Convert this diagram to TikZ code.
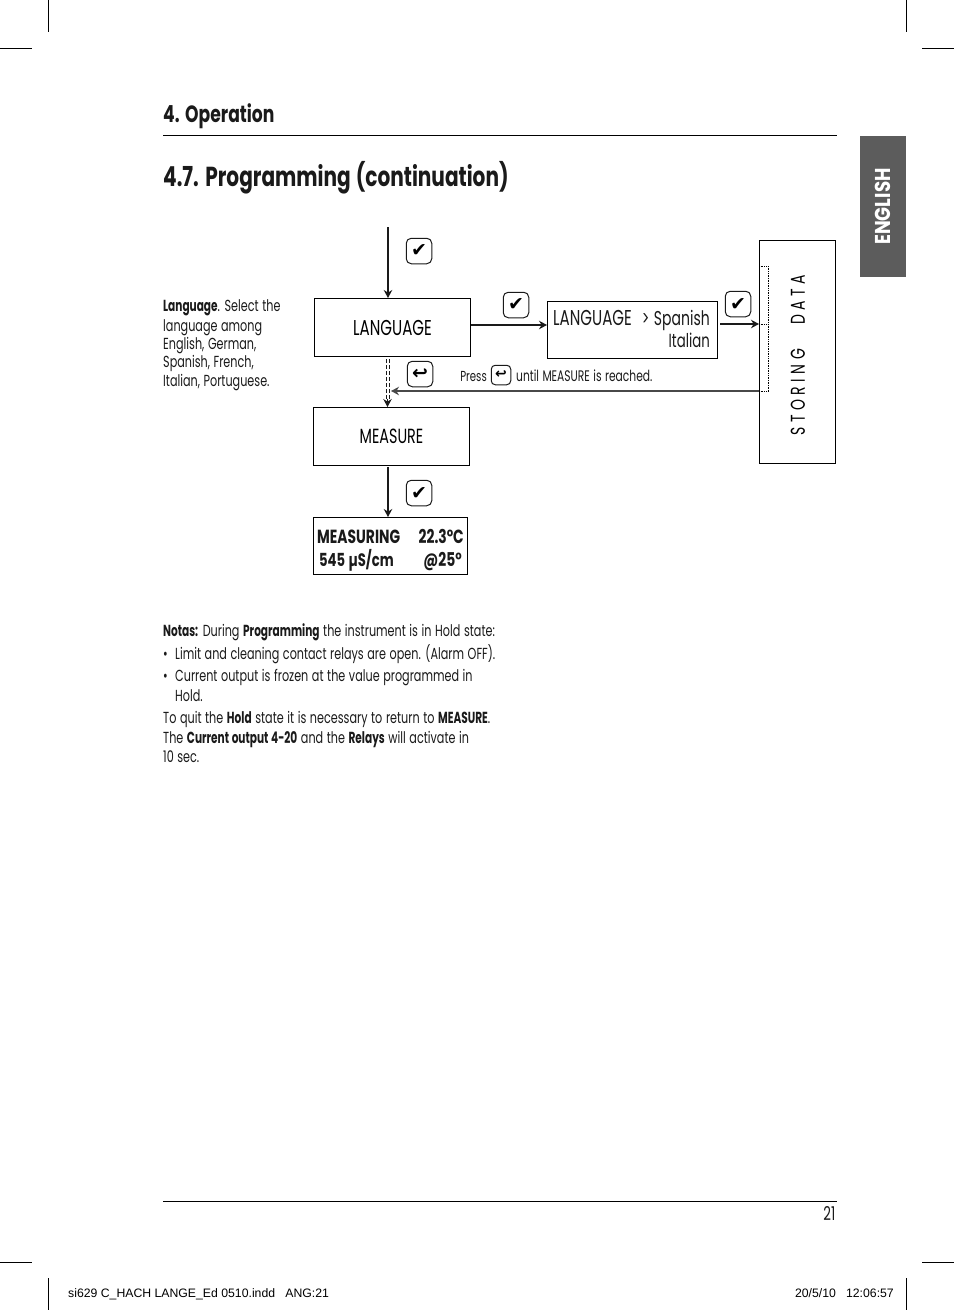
\documentclass[tikz,border=0pt]{standalone}
\usepackage{fontspec}
\setmainfont[FakeStretch=0.70,WordSpace=1.2,BoldFeatures={FakeStretch=0.66}]{Poppins}
\newfontfamily\headfont[FakeStretch=0.73,WordSpace=1.2]{Poppins}
\newfontfamily\tabfont[FakeStretch=0.85]{Poppins}
\newfontfamily\symbfont{DejaVu Sans}
\newfontfamily\slugfont{Liberation Sans}
\usetikzlibrary{positioning,arrows.meta,calc}
\definecolor{ink}{HTML}{1A1A1A}
\definecolor{tabgrey}{HTML}{5C5C5C}
\tikzset{
  >={Stealth[length=8pt,width=8.5pt]},
  %% nodes
  box/.style     = {draw=black, line width=1pt, fill=white, inner sep=0pt, align=center},
  keycap/.style  = {draw=ink, line width=1pt, rounded corners=5pt, minimum size=25.5pt,
                    inner sep=0pt, font=\symbfont\bfseries\fontsize{19}{19}\selectfont},
  txt/.style     = {anchor=base west, inner sep=0pt, text=ink, align=left,
                    font=\fontsize{16}{19}\selectfont},
  display/.style = {txt, font=\headfont\bfseries\fontsize{19}{19}\selectfont},
  slug/.style    = {anchor=base west, inner sep=0pt, font=\slugfont\fontsize{12.25}{13}\selectfont},
  %% lines
  flow/.style    = {->, draw=ink, line width=1.3pt},
  back/.style    = {->, draw=ink!80, line width=1.6pt},
  hold/.style    = {draw=ink, line width=0.9pt, dash pattern=on 3.5pt off 2.5pt},
  tabline/.style = {densely dotted, line width=0.7pt},
  rule/.style    = {draw=black, line width=0.9pt},
  crop/.style    = {draw=black, line width=0.7pt},
}
\begin{document}
\begin{tikzpicture}[x=1pt,y=-1pt]
\useasboundingbox (0,0) rectangle (954,1310);

%% ---- crop marks ----
\foreach \cx in {48,906} {
  \draw[crop] (\cx,0) -- (\cx,32);
  \draw[crop] (\cx,1278) -- (\cx,1310);
}
\foreach \cy in {48,1262} {
  \draw[crop] (0,\cy) -- (32,\cy);
  \draw[crop] (922,\cy) -- (954,\cy);
}

%% ---- page head ----
\node[txt, font=\headfont\bfseries\fontsize{23.5}{23}\selectfont] (section) at (163,122) {4. Operation};
\draw[rule] (163,135.5) -- (837,135.5);
\node[txt, font=\headfont\bfseries\fontsize{27.5}{27}\selectfont] (title) at (163,186) {4.7. Programming (continuation)};
\node[fill=tabgrey, minimum width=46pt, minimum height=141pt, inner sep=0pt] (tab) at (883,206.5) {};
\node[rotate=90, text=white, font=\tabfont\bfseries\fontsize{21.5}{22}\selectfont] (tablabel) at (tab.center) {ENGLISH};

%% ---- diagram boxes ----
\node[box, minimum width=156pt, minimum height=58pt, font=\fontsize{21.5}{21}\selectfont] (lang) at (392.5,327.5) {LANGUAGE};
\node[box, minimum width=156pt, minimum height=58pt, font=\fontsize{20.5}{20}\selectfont] (measure) at (391.5,436.5) {MEASURE};
\node[box, minimum width=154pt, minimum height=57pt] (reading) at (390.5,546) {};
\node[box, minimum width=170pt, minimum height=57pt] (select) at (632.5,329.5) {};
\node[box, minimum width=76pt, minimum height=223pt] (store) at (797.5,352) {};

%% box texts
\node[display] (readA) at (317,543) {MEASURING};
\node[display, anchor=base east] (readB) at (464,543) {22.3°C};
\node[display, font=\headfont\bfseries\fontsize{18}{18}\selectfont] (readC) at (319,566) {545 µS/cm};
\node[display, anchor=base east] (readD) at (462,566) {@25°};
\node[txt, font=\fontsize{21.5}{21}\selectfont] (selA) at (553,325) {LANGUAGE};
\node[txt, font=\fontsize{20}{20}\selectfont, anchor=base east] (selB) at (710,325) {> Spanish};
\node[txt, font=\fontsize{19}{19}\selectfont, anchor=base east] (selC) at (710,347) {Italian};
\node[rotate=90, font=\fontsize{20}{20}\selectfont] (storelabel) at (798,355) {S T O R I N G \quad D A T A};

%% ---- keys ----
\node[keycap] (keyA) at (419,251) {✔};
\node[keycap] (keyB) at (516,305) {✔};
\node[keycap] (keyC) at (738,304) {✔};
\node[keycap] (keyD) at (420,374) {↩};
\node[keycap] (keyE) at (419,493) {✔};
\node[keycap, minimum size=19.5pt, rounded corners=4pt, font=\symbfont\bfseries\fontsize{14}{14}\selectfont] (keyF) at (501,375) {↩};
\node[txt, font=\fontsize{14.5}{15}\selectfont, anchor=base east] (pressL) at (487,381) {Press};
\node[txt, font=\fontsize{15.3}{15}\selectfont] (pressR) at (516,381) {until MEASURE is reached.};

%% ---- connectors ----
\coordinate (start) at (388,227);
\coordinate (merge) at (391,391);
\coordinate (tail) at (388,467);
\coordinate (storeA) at (store.west |- 0,266);
\coordinate (storeB) at (store.west |- 0,324);
\coordinate (storeC) at (store.west |- 0,391);
\coordinate (storeD) at ($(storeA)+(9.5,0)$);
\coordinate (storeE) at ($(storeC)+(9.5,0)$);

\draw[flow] (start) -- (start |- lang.north);
\draw[flow] (lang.east |- 0,325) -- (select.west |- 0,325);
\draw[flow] ([xshift=2pt]select.east |- storeB) -- (storeB);
\draw[back] (storeC) -- (merge);
\draw[hold] ([xshift=-6.5pt,yshift=-2pt]lang.south) -- ([xshift=-6.5pt,yshift=5pt]lang.south |- measure.north);
\draw[hold] ([xshift=-3.5pt,yshift=-2pt]lang.south) -- ([xshift=-3.5pt,yshift=5pt]lang.south |- measure.north);
\draw[flow, line width=0.9pt] ([xshift=-5pt,yshift=-42pt]lang.south) -- ([xshift=-5pt]lang.south |- measure.north);
\draw[flow, line width=1.8pt] (tail) -- (tail |- reading.north);

%% dotted tabs inside the storing box
\draw[tabline] (storeD) -- (storeE);
\draw[tabline] (storeA) -- (storeD);
\draw[tabline] (storeB) -- ($(storeB)+(9.5,0)$);
\draw[tabline] (storeC) -- (storeE);

%% ---- left note ----
\node[txt] (noteA) at (163,311) {\textbf{Language}. Select the};
\node[txt] (noteB) at (163,331) {language among};
\node[txt] (noteC) at (163,349) {English, German,};
\node[txt] (noteD) at (163,367) {Spanish, French,};
\node[txt] (noteE) at (163,386) {Italian, Portuguese.};

%% ---- notes below ----
\node[txt] (notasA) at (163,636) {\textbf{Notas:} During \textbf{Programming} the instrument is in Hold state:};
\node[txt] (notasB) at (163,659) {\makebox[12pt][l]{•}Limit and cleaning contact relays are open. (Alarm OFF).};
\node[txt] (notasC) at (163,681) {\makebox[12pt][l]{•}Current output is frozen at the value programmed in};
\node[txt] (notasD) at (175,701) {Hold.};
\node[txt] (notasE) at (163,723) {To quit the \textbf{Hold} state it is necessary to return to \textbf{MEASURE}.};
\node[txt] (notasF) at (163,743) {The \textbf{Current output 4-20} and the \textbf{Relays} will activate in};
\node[txt] (notasG) at (163,762) {10 sec.};

%% ---- page foot ----
\draw[rule] (163,1201.5) -- (837,1201.5);
\node[txt, anchor=base east, font=\fontsize{19}{19}\selectfont] (pageno) at (835.5,1220) {21};
\node[slug] (slugL) at (68,1297) {si629 C\_HACH LANGE\_Ed 0510.indd \ \ ANG:21};
\node[slug, anchor=base east] (slugR) at (894,1297) {20/5/10 \ \ 12:06:57};
\end{tikzpicture}
\end{document}
